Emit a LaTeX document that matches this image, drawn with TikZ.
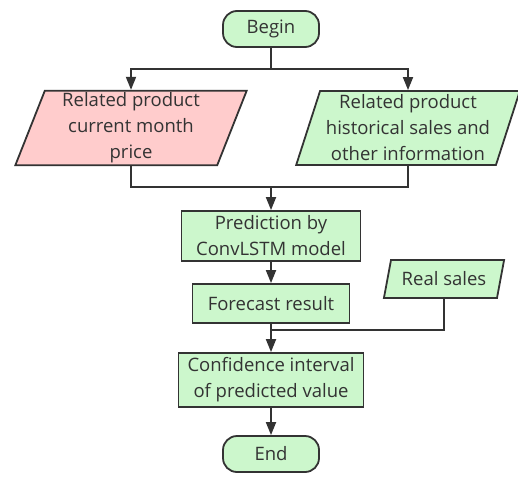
\documentclass[tikz,border=0pt]{standalone}
\usepackage{fontspec}
\setmainfont{Open Sans}
\usetikzlibrary{shapes.geometric,arrows.meta}
\definecolor{boxgreen}{HTML}{CCF7CC}
\definecolor{boxpink}{HTML}{FFCCCC}
\definecolor{edgegray}{HTML}{333333}
\tikzset{
    flow-box/.style = {draw=edgegray, fill=boxgreen, line width=1.8pt, rectangle, align=center, inner sep=2pt, text=edgegray, font=\fontsize{18.5}{26}\selectfont},
    flow-term/.style = {flow-box, rounded corners=14pt, minimum width=96pt, minimum height=36pt},
    flow-data/.style = {flow-box, trapezium, trapezium left angle=72, trapezium right angle=108, trapezium stretches=true},
    flow-line/.style = {draw=edgegray, line width=1.8pt},
    flow-arrow/.style = {flow-line, -{Triangle[width=10pt,length=13pt]}},
}

\begin{document}
\begin{tikzpicture}[x=1pt, y=-1pt]
\useasboundingbox (0,0) rectangle (518,477);
\node[flow-term] (begin) at (271,29) {Begin};
\node[flow-data, fill=boxpink, minimum width=232pt, minimum height=74pt] (price) at (131,128) {Related product\\current month\\price};
\node[flow-data, minimum width=224pt, minimum height=74pt] (history) at (408,128) {Related product\\historical sales and\\other information};
\node[flow-box, minimum width=179pt, minimum height=50pt] (predict) at (271,236) {Prediction by\\ConvLSTM model};
\node[flow-box, minimum width=157pt, minimum height=39pt] (forecast) at (271,303.5) {Forecast result};
\node[flow-data, minimum width=121pt, minimum height=38pt] (sales) at (444,279) {Real sales};
\node[flow-box, minimum width=185pt, minimum height=54pt] (confidence) at (271,380) {Confidence interval\\of predicted value};
\node[flow-term] (end) at (271,454) {End};

\coordinate (split) at (271,69);
\coordinate (merge) at (271,187);
\coordinate (join) at (271,330);

\draw[flow-line] (begin) -- (split);
\draw[flow-arrow] (split) -| (price);
\draw[flow-arrow] (split) -| (history);
\draw[flow-line] (price) |- (merge);
\draw[flow-line] (history) |- (merge);
\draw[flow-arrow] (merge) -- (predict);
\draw[flow-arrow] (predict) -- (forecast);
\draw[flow-line] (forecast) -- (join);
\draw[flow-line] (sales) |- (join);
\draw[flow-arrow] (join) -- (confidence);
\draw[flow-arrow] (confidence) -- (end);
\end{tikzpicture}
\end{document}
